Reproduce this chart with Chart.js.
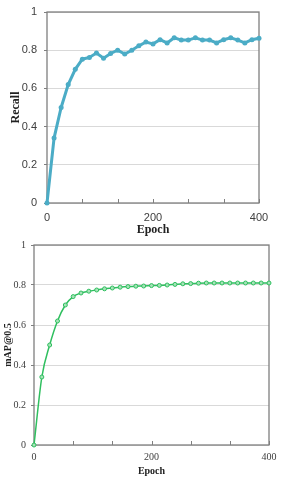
<!DOCTYPE html>
<html>
<head>
<meta charset="utf-8">
<script src="https://cdn.jsdelivr.net/npm/chart.js@4/dist/chart.umd.min.js"></script>
<style>
  html, body { margin: 0; padding: 0; background: #fff; }
  .box { position: absolute; left: 0; width: 289px; height: 240px; }
</style>
</head>
<body>
<div class="box" style="top:0"><canvas id="recall_chart"></canvas></div>
<div class="box" style="top:240px"><canvas id="map_chart"></canvas></div>
<script>
const epochs = [0, 13, 27, 40, 53, 67, 80, 93, 107, 120, 133, 147, 160, 173, 187, 200,
                213, 227, 240, 253, 267, 280, 293, 307, 320, 333, 347, 360, 373, 387, 400];
const recall = [0, 0.34, 0.50, 0.62, 0.70, 0.753, 0.762, 0.785, 0.758, 0.783, 0.80,
                0.78, 0.80, 0.823, 0.843, 0.833, 0.855, 0.838, 0.865, 0.853, 0.853,
                0.865, 0.853, 0.853, 0.838, 0.855, 0.865, 0.853, 0.838, 0.855, 0.863];
const map50 = [0, 0.34, 0.50, 0.62, 0.70, 0.742, 0.76, 0.769, 0.775, 0.781, 0.785,
               0.789, 0.792, 0.794, 0.795, 0.797, 0.798, 0.80, 0.803, 0.806, 0.807,
               0.809, 0.81, 0.81, 0.81, 0.81, 0.81, 0.81, 0.81, 0.81, 0.81];
const xLabelled = [0, 200, 400];
const tickEvery = 5;

// box around the plot + short x tick marks pointing up into the plot
const framePlugin = {
    id: 'frame',
    beforeDatasetsDraw(chart) {
        const { ctx, chartArea: a, scales } = chart;
        ctx.save();
        ctx.strokeStyle = '#7f7f7f';
        ctx.lineWidth = 1.3;
        ctx.strokeRect(a.left, a.top, a.right - a.left, a.bottom - a.top);
        ctx.lineWidth = 1;
        for (let i = 0; i < epochs.length; i += tickEvery) {
            const x = Math.round(scales.x.getPixelForValue(i)) + 0.5;
            ctx.beginPath();
            ctx.moveTo(x, a.bottom);
            ctx.lineTo(x, a.bottom - 4);
            ctx.stroke();
        }
        ctx.restore();
    }
};

function makeChart(id, opts) {
    const ctx = document.getElementById(id).getContext('2d');
    return new Chart(ctx, {
        type: 'line',
        data: {
            labels: epochs,
            datasets: [opts.dataset],
        },
        options: {
            responsive: true,
            maintainAspectRatio: false,
            animation: false,
            layout: { padding: opts.padding },
            plugins: { legend: { display: false }, tooltip: { enabled: false } },
            scales: {
                x: {
                    offset: false,
                    afterFit(scale) { scale.height = opts.xHeight; },
                    grid: { drawOnChartArea: false, drawTicks: false },
                    border: { display: false },
                    ticks: {
                        autoSkip: false,
                        maxRotation: 0,
                        padding: opts.xPad,
                        color: '#404040',
                        font: opts.tickFont,
                        callback(value) {
                            const lab = this.getLabelForValue(value);
                            return xLabelled.includes(lab) ? String(lab) : '';
                        }
                    },
                    title: {
                        display: true,
                        text: 'Epoch',
                        color: '#222',
                        padding: { top: opts.xTitlePad, bottom: 0 },
                        font: { family: 'Liberation Serif', weight: 'bold', size: opts.titleSize }
                    }
                },
                y: {
                    min: 0,
                    max: 1,
                    afterFit(scale) {
                        scale.width = opts.yWidth;
                        scale.paddingTop = 0;
                        scale.paddingBottom = 0;
                    },
                    grid: { color: '#d9d9d9', tickColor: '#7f7f7f', tickLength: 3 },
                    border: { display: false },
                    ticks: {
                        stepSize: 0.2,
                        padding: opts.yPad,
                        color: '#404040',
                        font: opts.tickFont,
                        callback: (value) => String(Number(value.toFixed(1)))
                    },
                    title: {
                        display: true,
                        text: opts.yTitle,
                        color: '#222',
                        padding: { top: 0, bottom: opts.yTitlePad },
                        font: { family: 'Liberation Serif', weight: 'bold', size: opts.titleSize }
                    }
                }
            }
        },
        plugins: [framePlugin]
    });
}

makeChart('recall_chart', {
    dataset: {
        data: recall,
        borderColor: '#4bacc6',
        backgroundColor: '#4bacc6',
        borderWidth: 3,
        pointRadius: 2.5,
        pointBorderWidth: 0,
        pointBackgroundColor: '#4bacc6',
        tension: 0,
        clip: false
    },
    padding: { top: 12, right: 30, left: 9, bottom: 3 },
    xHeight: 34,
    yWidth: 38,
    xPad: 8,
    yPad: 7,
    xTitlePad: 0,
    yTitlePad: 2,
    titleSize: 12,
    yTitle: 'Recall',
    tickFont: { family: 'Liberation Sans', size: 11 }
});

makeChart('map_chart', {
    dataset: {
        data: map50,
        borderColor: '#2fbf5f',
        backgroundColor: '#2fbf5f',
        borderWidth: 1.5,
        pointRadius: 2,
        pointBorderWidth: 1,
        pointBackgroundColor: '#a6e3b8',
        pointBorderColor: '#2fbf5f',
        tension: 0.3,
        cubicInterpolationMode: 'monotone',
        clip: false
    },
    padding: { top: 4, right: 20, left: 2, bottom: 3 },
    xHeight: 32,
    yWidth: 32,
    xPad: 6,
    yPad: 5,
    xTitlePad: 0,
    yTitlePad: 4,
    titleSize: 10,
    yTitle: 'mAP@0.5',
    tickFont: { family: 'Liberation Serif', size: 10 }
});
</script>
</body>
</html>
